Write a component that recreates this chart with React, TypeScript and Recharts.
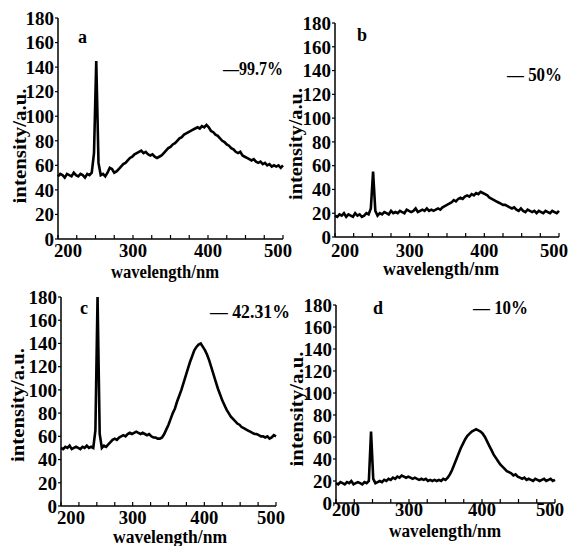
import { Line, LineChart, XAxis, YAxis } from "recharts";

// wavelength grid (nm), shared by the four spectra
const WAVELENGTH = [
  200, 203, 206, 209, 212, 215, 218, 221, 224, 227, 230, 233, 236, 239, 242, 245,
  248, 251, 254, 257, 260, 263, 266, 269, 272, 275, 278, 281, 284, 287, 290, 293,
  296, 299, 302, 305, 308, 311, 314, 317, 320, 323, 326, 329, 332, 335, 338, 341,
  344, 347, 350, 353, 356, 359, 362, 365, 368, 371, 374, 377, 380, 383, 386, 389,
  392, 395, 398, 401, 404, 407, 410, 413, 416, 419, 422, 425, 428, 431, 434, 437,
  440, 443, 446, 449, 452, 455, 458, 461, 464, 467, 470, 473, 476, 479, 482, 485,
  488, 491, 494, 497, 500,
];

// a: 99.7%
const INTENSITY_A = [
  51, 53, 52, 50, 53, 52, 51, 54, 52, 51, 53, 52, 50, 53, 52, 54,
  70, 145, 62, 52, 53, 51, 54, 58, 57, 54, 55, 57, 59, 61, 62, 64,
  66, 67, 69, 70, 71, 72, 70, 71, 69, 68, 69, 67, 66, 67, 68, 70,
  72, 74, 75, 77, 78, 80, 82, 83, 85, 86, 87, 88, 89, 90, 91, 90,
  92, 91, 93, 91, 88, 87, 85, 84, 82, 80, 79, 77, 76, 74, 73, 71,
  70, 71, 68, 67, 66, 65, 64, 65, 63, 62, 63, 61, 62, 60, 61, 59,
  60, 59, 60, 58, 60,
];

// b: 50%
const INTENSITY_B = [
  18, 17, 19, 18, 20, 17, 19, 18, 17, 20, 18, 19, 17, 18, 20, 19,
  24, 55, 22, 18, 20, 19, 21, 20, 19, 22, 20, 21, 20, 22, 21, 20,
  23, 22, 21, 22, 24, 21, 22, 23, 22, 24, 22, 23, 22, 23, 24, 23,
  25, 26, 27, 28, 29, 31, 30, 32, 33, 32, 34, 35, 34, 36, 35, 37,
  36, 38, 37, 36, 35, 33, 32, 31, 30, 29, 28, 27, 27, 26, 25, 24,
  25, 23, 22, 24, 22, 21, 23, 22, 21, 22, 20, 22, 21, 20, 22, 21,
  20, 22, 21, 20, 22,
];

// c: 42.31%
const INTENSITY_C = [
  50, 49, 51, 50, 52, 49, 50, 51, 50, 49, 51, 50, 52, 50, 51, 50,
  65, 180, 62, 50, 52, 51, 53, 55, 57, 58, 57, 59, 60, 61, 60, 62,
  63, 62, 63, 64, 63, 62, 63, 62, 61, 62, 60, 59, 59, 58, 58, 59,
  62, 66, 70, 75, 80, 84, 90, 95, 100, 106, 112, 118, 124, 129, 134, 137,
  139, 140, 137, 134, 130, 125, 119, 113, 107, 101, 96, 91, 87, 83, 80, 77,
  75, 73, 71, 70, 68, 67, 66, 65, 64, 63, 62, 62, 61, 60, 60, 59,
  60, 58, 59, 61, 60,
];

// d: 10%
const INTENSITY_D = [
  18, 17, 19, 18, 17, 19, 18, 20, 17, 18, 19, 18, 17, 19, 18, 20,
  65, 22, 18, 19, 20, 19, 21, 20, 22, 21, 23, 22, 24, 23, 25, 24,
  23, 24, 23, 22, 23, 22, 21, 22, 21, 22, 20, 21, 20, 21, 20, 21,
  20, 22, 21, 23, 26, 30, 35, 40, 45, 50, 54, 58, 61, 63, 65, 66,
  67, 66, 65, 63, 60, 56, 52, 48, 44, 41, 38, 35, 33, 31, 29, 28,
  27, 25, 26, 24, 23, 22, 23, 21, 22, 21, 20, 22, 21, 20, 21, 22,
  20, 21, 22, 20, 21,
];

const X_TICKS = [200, 225, 250, 275, 300, 325, 350, 375, 400, 425, 450, 475, 500];
const Y_TICKS = [0, 20, 40, 60, 80, 100, 120, 140, 160, 180];
const LETTERS = ["a", "b", "c", "d"];
const LEGENDS = ["\u201499.7%", "\u2014 50%", "\u2014 42.31%", "\u2014 10%"];

const FONT = "'Liberation Serif', 'Times New Roman', serif";

const PANELS = [
  { left: 0, top: 0, w: 300, h: 280, mt: 18, mr: 17, yw: 58, xh: 41, tickDy: 18, values: INTENSITY_A },
  { left: 280, top: 0, w: 289, h: 280, mt: 23, mr: 10, yw: 55, xh: 43, tickDy: 20, values: INTENSITY_B },
  { left: 0, top: 280, w: 300, h: 266, mt: 17, mr: 24, yw: 61, xh: 40, tickDy: 18, values: INTENSITY_C },
  { left: 280, top: 280, w: 289, h: 266, mt: 25, mr: 14, yw: 56, xh: 43, tickDy: 13, values: INTENSITY_D },
];

// overlay text positions
const YLABEL_POS = [
  { x: 20, y: 146, len: 115 },
  { x: 296, y: 144, len: 112 },
  { x: 18, y: 405, len: 114 },
  { x: 297, y: 409, len: 115 },
];
const XLABEL_POS = [
  { x: 165, y: 278, len: 108 },
  { x: 441, y: 275, len: 116 },
  { x: 170, y: 543, len: 114 },
  { x: 445, y: 537, len: 112 },
];
const LETTER_POS = [
  { x: 78, y: 43 },
  { x: 357, y: 41 },
  { x: 80, y: 314 },
  { x: 373, y: 314 },
];
const LEGEND_POS = [
  { x: 223, y: 75, len: 60 },
  { x: 507, y: 81, len: 55 },
  { x: 210, y: 318, len: 80 },
  { x: 473, y: 314, len: 55 },
];

function XTick(props: any) {
  const { x, y, payload, dy } = props;
  const v = payload.value;
  const shift = v === 200 ? 10 : v === 500 ? -5 : 0;
  return (
    <g>
      <line x1={x} x2={x} y1={y} y2={y - 4} stroke="#000" strokeWidth={1.2} />
      {v % 100 === 0 && (
        <text
          x={x + shift}
          y={y + dy}
          textAnchor="middle"
          fontFamily={FONT}
          fontWeight={700}
          fontSize={19}
          textLength={28}
          lengthAdjust="spacingAndGlyphs"
          fill="#000"
        >
          {v}
        </text>
      )}
    </g>
  );
}

function Panel({ p }: { p: (typeof PANELS)[number] }) {
  const data = WAVELENGTH.map((w, i) => ({ w, v: p.values[i] }));
  return (
    <div style={{ position: "absolute", left: p.left, top: p.top }}>
      <LineChart
        width={p.w}
        height={p.h}
        data={data}
        margin={{ top: p.mt, right: p.mr, left: 0, bottom: 0 }}
      >
        <XAxis
          dataKey="w"
          type="number"
          domain={[200, 500]}
          ticks={X_TICKS}
          interval={0}
          height={p.xh}
          tickLine={false}
          tickSize={0}
          tickMargin={0}
          tick={<XTick dy={p.tickDy} />}
          axisLine={{ stroke: "#000", strokeWidth: 1.5 }}
        />
        <YAxis
          type="number"
          domain={[0, 180]}
          ticks={Y_TICKS}
          interval={0}
          width={p.yw}
          tickSize={3}
          tickMargin={1}
          tickLine={{ stroke: "#000", strokeWidth: 1.2 }}
          axisLine={{ stroke: "#000", strokeWidth: 1.5 }}
          tick={{ fill: "#000", fontSize: 19, fontWeight: 700, fontFamily: FONT }}
        />
        <Line
          dataKey="v"
          type="linear"
          stroke="#000"
          strokeWidth={2.6}
          dot={false}
          isAnimationActive={false}
        />
      </LineChart>
    </div>
  );
}

export default function App() {
  return (
    <div
      style={{
        position: "absolute",
        left: 0,
        top: 0,
        width: 569,
        height: 546,
        background: "#fff",
      }}
    >
      {PANELS.map((p, i) => (
        <Panel key={i} p={p} />
      ))}
      <svg
        width={569}
        height={546}
        style={{ position: "absolute", left: 0, top: 0, pointerEvents: "none" }}
        fontFamily={FONT}
        fontWeight={700}
        fill="#000"
      >
        {YLABEL_POS.map((pos, i) => (
          <text
            key={"y" + i}
            transform={`translate(${pos.x},${pos.y}) rotate(-90)`}
            textAnchor="middle"
            dominantBaseline="central"
            fontSize={18}
            textLength={pos.len}
            lengthAdjust="spacingAndGlyphs"
          >
            intensity/a.u.
          </text>
        ))}
        {XLABEL_POS.map((pos, i) => (
          <text
            key={"x" + i}
            x={pos.x}
            y={pos.y}
            textAnchor="middle"
            fontSize={18}
            textLength={pos.len}
            lengthAdjust="spacingAndGlyphs"
          >
            wavelength/nm
          </text>
        ))}
        {LETTER_POS.map((pos, i) => (
          <text key={"l" + i} x={pos.x} y={pos.y} fontSize={18}>
            {LETTERS[i]}
          </text>
        ))}
        {LEGEND_POS.map((pos, i) => (
          <text
            key={"g" + i}
            x={pos.x}
            y={pos.y}
            fontSize={18}
            textLength={pos.len}
            lengthAdjust="spacingAndGlyphs"
          >
            {LEGENDS[i]}
          </text>
        ))}
      </svg>
    </div>
  );
}
